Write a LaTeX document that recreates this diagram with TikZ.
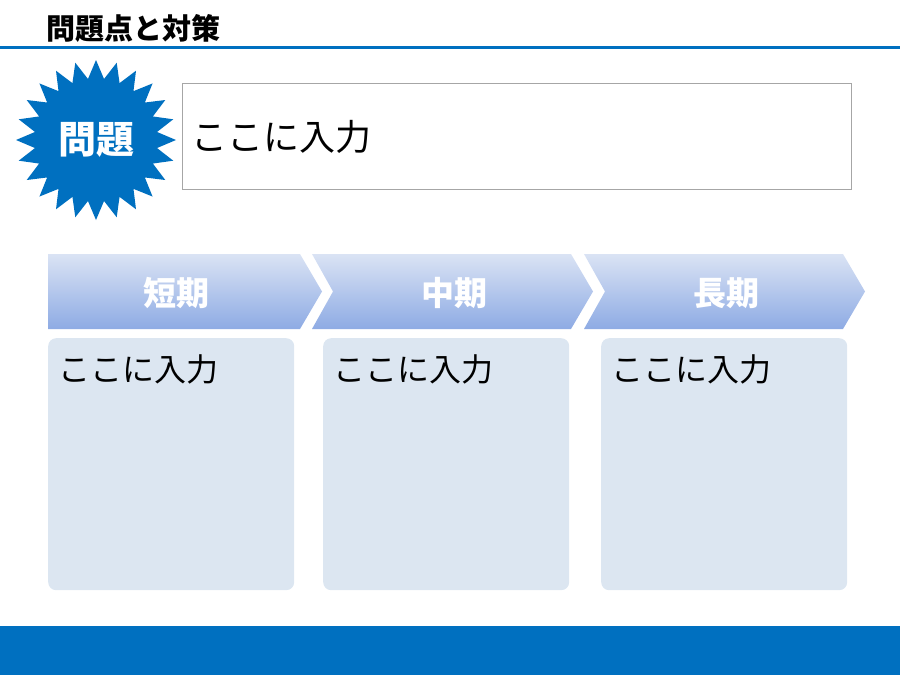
\documentclass[tikz,border=0pt]{standalone}
\usepackage{fontspec}
\setmainfont{Liberation Sans}
\newfontfamily\jpfont{Noto Sans CJK JP}
\usetikzlibrary{shapes.geometric, positioning}
\definecolor{mainblue}{HTML}{0070C0}
\definecolor{boxfill}{HTML}{DCE6F1}
\definecolor{chevtop}{HTML}{DAE3F4}
\definecolor{chevbot}{HTML}{8EABE4}
\definecolor{framegray}{HTML}{A6A6A6}

\begin{document}
\begin{tikzpicture}[x=1pt, y=-1pt, font=\jpfont,
    inbox/.style={fill=boxfill, rounded corners=8pt, inner sep=0pt, anchor=north west,
                  minimum width=246pt, minimum height=252pt},
    intext/.style={anchor=west, inner sep=0pt},
    chevlabel/.style={text=white, inner sep=0pt, font=\jpfont\bfseries\fontsize{33}{33}\selectfont}]
    \useasboundingbox (0,0) rectangle (900,675);

    % Title:
    \node[intext, font=\jpfont\bfseries\fontsize{29}{29}\selectfont] (title) at (46,28) {問題点と対策};
    \fill[mainblue] (0,46) rectangle (900,49);

    % Problem:
    \node[star, star points=24, star point ratio=1.3, minimum size=160pt, inner sep=0pt,
          fill=mainblue, text=white, font=\jpfont\bfseries\fontsize{38}{38}\selectfont] (problem) at (96,140) {問題};
    \node[draw=framegray, line width=1pt, anchor=north west, inner sep=0pt,
          minimum width=669pt, minimum height=106pt] (issue) at (182,83) {};
    \node[intext, right=9pt of issue.west, font=\jpfont\fontsize{36}{36}\selectfont] (issuetext) {ここに入力};

    % Steps:
    \foreach \l/\r/\n/\name/\txt in {48/300/0/short/短期, 312/571/21/middle/中期, 584/843/21/long/長期}{
        \shade[top color=chevtop, bottom color=chevbot]
            (\l,254) -- (\r,254) -- (\r+22,291.5) -- (\r,329) -- (\l,329) -- (\l+\n,291.5) -- cycle;
        \node[chevlabel] (\name) at ({(\l+\n+\r)/2+2},293) {\txt};
    }
    \foreach \l/\name in {48/short, 323/middle, 601/long}{
        \node[inbox] (\name box) at (\l,338) {};
        \node[intext, font=\jpfont\fontsize{32}{32}\selectfont] (\name text) at (\l+10,369) {ここに入力};
    }

    % Footer:
    \fill[mainblue] (0,626) rectangle (900,675);
\end{tikzpicture}
\end{document}
